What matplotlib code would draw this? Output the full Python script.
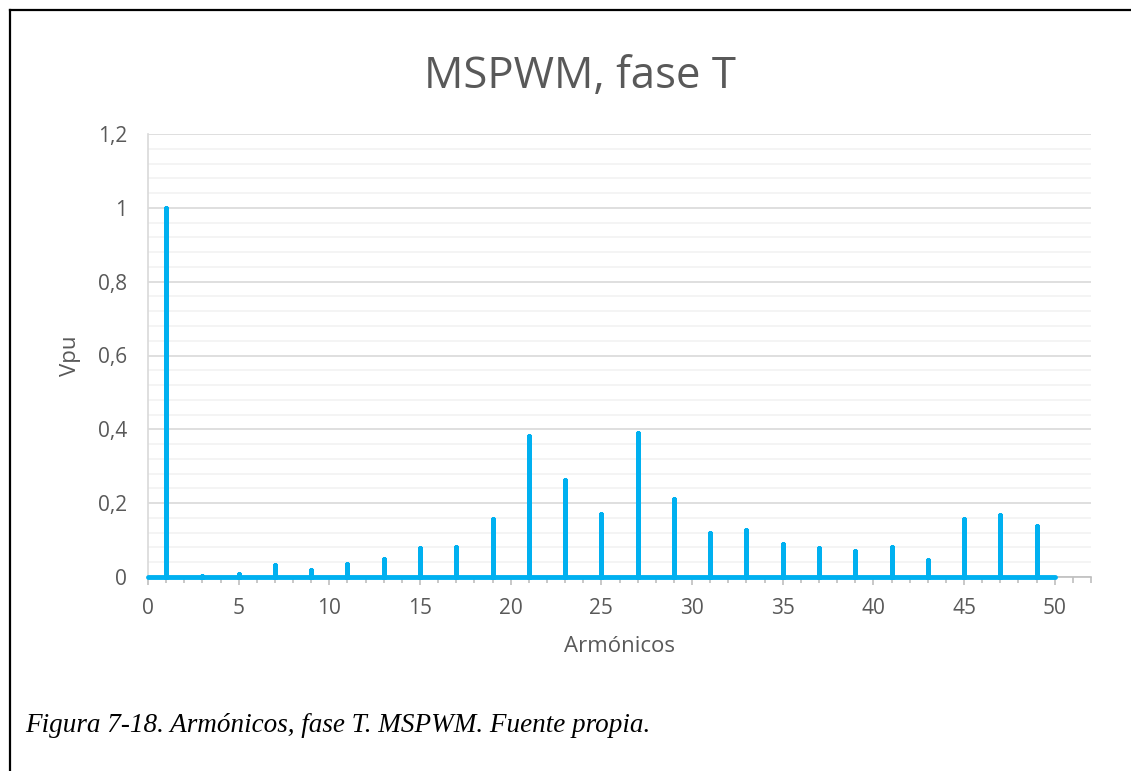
import matplotlib
matplotlib.use("Agg")
import matplotlib.pyplot as plt
from matplotlib.ticker import MultipleLocator, FuncFormatter
from matplotlib.lines import Line2D

# Harmonic spectrum of phase T (per-unit amplitude), orders 0..50
harmonic_orders = list(range(0, 51))
odd_orders = [1, 3, 5, 7, 9, 11, 13, 15, 17, 19, 21, 23, 25,
              27, 29, 31, 33, 35, 37, 39, 41, 43, 45, 47, 49]
odd_amplitudes = [1.0, 0.002, 0.007, 0.032, 0.018, 0.035, 0.048, 0.079, 0.081,
                  0.158, 0.382, 0.264, 0.172, 0.391, 0.211, 0.120, 0.128,
                  0.090, 0.078, 0.070, 0.082, 0.045, 0.157, 0.167, 0.137]
amp_by_order = dict(zip(odd_orders, odd_amplitudes))
vpu = [amp_by_order.get(h, 0.0) for h in harmonic_orders]

y_ticks = [0, 0.2, 0.4, 0.6, 0.8, 1.0, 1.2]
x_ticks = [0, 5, 10, 15, 20, 25, 30, 35, 40, 45, 50]

W, H = 1131, 771
fig = plt.figure(figsize=(W / 100, H / 100), dpi=100)
fig.patch.set_facecolor("white")

ui_font = "Open Sans"
grey_text = "#595959"

# outer frame (left and top edges)
fig.add_artist(Line2D([9.5 / W, 9.5 / W], [0, 1 - 10 / H], transform=fig.transFigure,
                      color="black", lw=1.6, solid_capstyle="projecting"))
fig.add_artist(Line2D([9.5 / W, 1], [1 - 10 / H, 1 - 10 / H], transform=fig.transFigure,
                      color="black", lw=1.6, solid_capstyle="projecting"))

left, right, top, bottom = 148, 1091, 134, 577
ax = fig.add_axes([left / W, 1 - bottom / H, (right - left) / W, (bottom - top) / H])

# each spectral line rises from the baseline at its order and returns to it
xs, ys = [], []
for h, v in zip(harmonic_orders, vpu):
    xs += [h, h, h]
    ys += [0.0, v, 0.0]
ax.plot(xs, ys, color="#00B0F0", lw=3.5, solid_joinstyle="round",
        solid_capstyle="round", zorder=3, clip_on=False)

ax.set_xlim(0, 52)
ax.set_ylim(0, 1.2)
ax.set_yticks(y_ticks)
ax.yaxis.set_minor_locator(MultipleLocator(0.04))
ax.set_xticks(x_ticks)
ax.xaxis.set_minor_locator(MultipleLocator(1))

fmt = FuncFormatter(lambda v, p: ("%g" % round(v, 2)).replace(".", ","))
ax.yaxis.set_major_formatter(fmt)

ax.grid(axis="y", which="major", color="#D9D9D9", lw=1.2, zorder=0)
ax.grid(axis="y", which="minor", color="#F2F2F2", lw=1.2, zorder=0)
ax.set_axisbelow(True)

for s in ("top", "right"):
    ax.spines[s].set_visible(False)
ax.spines["left"].set_color("#D9D9D9")
ax.spines["left"].set_linewidth(1.2)
ax.spines["bottom"].set_color("#BFBFBF")
ax.spines["bottom"].set_linewidth(1.2)

ax.tick_params(axis="y", which="both", length=0, pad=15, labelsize=15,
               labelcolor=grey_text)
ax.tick_params(axis="x", which="major", length=6, width=1.2, color="#BFBFBF",
               pad=9, labelsize=15, labelcolor=grey_text)
ax.tick_params(axis="x", which="minor", length=4.5, width=1.2, color="#BFBFBF")
for lab in ax.get_xticklabels() + ax.get_yticklabels():
    lab.set_fontfamily(ui_font)

ax.set_xlabel("Armónicos", fontsize=16, color=grey_text, family=ui_font, labelpad=12)
ax.set_ylabel("Vpu", fontsize=16, color=grey_text, family=ui_font, labelpad=12)

fig.text(580 / W, 1 - 77 / H, "MSPWM, fase T", ha="center", va="center",
         fontsize=31.5, color=grey_text, family=ui_font)

fig.text(25 / W, 1 - 726 / H, "Figura 7-18. Armónicos, fase T. MSPWM. Fuente propia.",
         ha="left", va="center", fontsize=19.5, style="italic",
         family="Liberation Serif", color="black")

fig.savefig("out.png", dpi=100, facecolor="white")
